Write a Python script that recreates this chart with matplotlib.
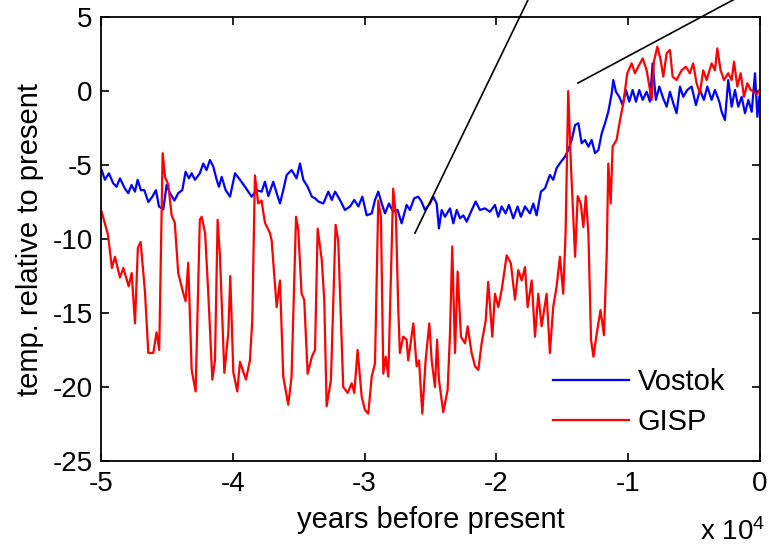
import numpy as np
import matplotlib.pyplot as plt
from matplotlib.ticker import FuncFormatter

plt.rcParams['font.family'] = ['Liberation Sans', 'DejaVu Sans']
plt.rcParams['mathtext.fontset'] = 'custom'
plt.rcParams['mathtext.rm'] = 'Liberation Sans'
plt.rcParams['mathtext.default'] = 'regular'
plt.rcParams['axes.unicode_minus'] = False

# Vostok ice core (thousand years, temp relative to present)
vostok_kyr = [-49.95, -49.7, -49.4, -49.07, -48.82, -48.56, -48.18, -47.93, -47.68, -47.42,
              -47.22, -46.97, -46.71, -46.41, -46.1, -45.83, -45.6, -45.27, -45.02, -44.76,
              -44.43, -44.14, -43.83, -43.58, -43.33, -43.12, -42.87, -42.5, -42.24, -41.99,
              -41.73, -41.48, -41.22, -41.05, -40.84, -40.54, -40.21, -39.83, -39.45, -39.07,
              -38.57, -38.19, -37.81, -37.56, -37.3, -36.93, -36.67, -36.42, -36.17, -35.91,
              -35.54, -35.16, -34.9, -34.65, -34.32, -34.0, -33.76, -33.5, -33.13, -32.75,
              -32.49, -32.24, -31.87, -31.49, -31.1, -30.78, -30.47, -30.17, -29.84, -29.46,
              -29.21, -28.96, -28.7, -28.45, -28.15, -27.83, -27.5, -27.19, -26.81, -26.56,
              -26.24, -25.93, -25.68, -25.42, -25.04, -24.79, -24.53, -24.36, -24.15, -23.9,
              -23.52, -23.27, -23.01, -22.76, -22.51, -22.25, -21.93, -21.57, -21.25, -20.87,
              -20.49, -20.11, -19.86, -19.6, -19.3, -19.05, -18.72, -18.39, -18.14, -17.83,
              -17.45, -17.2, -16.95, -16.62, -16.31, -15.94, -15.69, -15.43, -15.1, -14.8,
              -14.55, -14.29, -14.03, -13.78, -13.53, -13.28, -13.02, -12.77, -12.52, -12.26,
              -12.01, -11.76, -11.51, -11.25, -11.13, -10.93, -10.68, -10.42, -10.17, -9.92,
              -9.66, -9.41, -9.16, -8.9, -8.6, -8.35, -8.15, -7.9, -7.64, -7.34,
              -7.08, -6.83, -6.58, -6.33, -6.07, -5.82, -5.52, -5.19, -4.86, -4.56,
              -4.26, -4.0, -3.67, -3.42, -3.09, -2.91, -2.66, -2.41, -2.15, -1.9,
              -1.65, -1.39, -1.14, -0.88, -0.63, -0.38, -0.2, -0.05]
vostok_temp = [-5.34, -6.0, -5.56, -6.24, -6.47, -5.9, -6.6, -6.9, -6.35, -6.8,
               -6.0, -6.7, -6.7, -7.5, -7.14, -6.7, -7.8, -8.0, -6.35, -6.9,
               -7.4, -6.9, -6.7, -5.45, -5.9, -5.56, -6.0, -5.56, -4.9, -5.34,
               -4.66, -5.1, -6.0, -6.47, -5.8, -6.7, -7.14, -5.56, -6.0, -6.47,
               -7.14, -6.7, -6.8, -6.13, -7.1, -6.13, -6.9, -7.6, -6.7, -5.67,
               -5.34, -5.9, -4.9, -6.0, -6.47, -7.14, -7.25, -7.47, -7.6, -6.8,
               -7.36, -6.8, -7.36, -8.04, -7.8, -7.36, -7.8, -7.14, -8.4, -8.27,
               -7.36, -6.8, -7.6, -8.27, -7.6, -8.16, -8.04, -8.94, -7.7, -8.04,
               -7.25, -7.14, -7.47, -8.04, -7.6, -7.14, -7.6, -9.28, -8.04, -8.5,
               -7.93, -8.94, -8.04, -8.6, -8.4, -8.83, -8.16, -7.47, -8.04, -7.93,
               -8.16, -7.7, -8.5, -7.8, -8.27, -7.7, -8.6, -7.8, -8.5, -7.8,
               -8.27, -7.6, -8.4, -6.8, -6.57, -5.67, -6.0, -5.2, -4.78, -4.44,
               -3.99, -3.31, -2.3, -2.18, -3.53, -3.31, -3.76, -3.31, -4.2, -3.99,
               -2.86, -2.18, -1.4, -0.16, 0.74, -0.05, -0.39, -0.95, 0.07, -0.72,
               0.07, -0.72, 0.07, -0.6, -0.05, -0.72, 1.87, -0.6, 0.3, -0.5,
               -1.06, -0.05, -0.83, -1.5, 0.3, -0.39, 0.07, 0.3, -0.95, 0.07,
               -0.6, 0.3, -0.6, 0.07, -0.72, -1.4, -1.96, 0.74, -1.06, 0.07,
               -1.06, -0.39, -1.5, -0.6, -1.4, 1.2, -1.74, -0.39]

# GISP ice core
gisp_kyr = [-49.95, -49.47, -49.17, -48.94, -48.56, -48.3, -47.9, -47.67, -47.42, -47.2,
            -46.99, -46.66, -46.41, -46.03, -45.78, -45.58, -45.32, -45.14, -44.89, -44.64,
            -44.4, -44.14, -43.76, -43.58, -43.38, -43.12, -42.82, -42.5, -42.36, -42.1,
            -41.86, -41.55, -41.35, -41.15, -40.97, -40.64, -40.34, -40.19, -39.96, -39.66,
            -39.45, -39.0, -38.7, -38.52, -38.32, -38.07, -37.82, -37.56, -37.18, -37.05,
            -36.67, -36.42, -36.17, -35.79, -35.54, -35.2, -35.03, -34.78, -34.58, -34.32,
            -34.0, -33.76, -33.56, -33.25, -33.06, -32.88, -32.55, -32.2, -32.0, -31.62,
            -31.28, -30.98, -30.78, -30.53, -30.22, -29.97, -29.72, -29.46, -29.21, -28.96,
            -28.76, -28.58, -28.4, -28.2, -27.83, -27.62, -27.45, -27.32, -27.07, -26.81,
            -26.69, -26.3, -26.05, -25.87, -25.62, -25.37, -25.09, -24.91, -24.66, -24.5,
            -24.36, -24.03, -23.7, -23.52, -23.35, -23.14, -22.94, -22.69, -22.38, -22.18,
            -21.88, -21.62, -21.37, -21.12, -20.81, -20.62, -20.31, -20.11, -19.86, -19.6,
            -19.22, -18.9, -18.59, -18.34, -18.08, -17.83, -17.63, -17.32, -17.07, -16.82,
            -16.57, -16.19, -15.94, -15.69, -15.43, -15.18, -14.93, -14.75, -14.55, -14.34,
            -14.03, -13.83, -13.6, -13.4, -13.22, -13.02, -12.82, -12.64, -12.39, -12.1,
            -11.84, -11.63, -11.51, -11.33, -11.18, -10.88, -10.62, -10.37, -10.07, -9.74,
            -9.49, -9.24, -8.9, -8.6, -8.22, -8.05, -7.79, -7.54, -7.34, -7.08,
            -6.83, -6.63, -6.33, -5.95, -5.62, -5.32, -5.07, -4.81, -4.56, -4.31,
            -4.05, -3.67, -3.42, -3.24, -2.99, -2.73, -2.41, -2.15, -1.97, -1.72,
            -1.47, -1.21, -0.96, -0.71, -0.45, -0.25, -0.05]
gisp_temp = [-8.16, -9.7, -11.96, -11.2, -12.6, -11.96, -13.2, -12.3, -15.7, -10.6,
             -10.2, -13.6, -17.7, -17.7, -16.3, -17.5, -4.2, -5.8, -6.35, -8.4,
             -8.9, -12.3, -13.65, -14.2, -11.6, -18.85, -20.3, -8.7, -8.5, -9.6,
             -13.65, -19.5, -18.2, -8.7, -11.2, -19.05, -16.35, -12.5, -19.0, -20.3,
             -18.3, -19.5, -18.2, -15.5, -5.7, -7.6, -7.4, -8.9, -9.6, -10.1,
             -14.6, -12.8, -19.3, -21.2, -19.3, -8.5, -9.4, -13.7, -14.1, -19.1,
             -17.95, -17.5, -9.3, -11.4, -14.1, -21.3, -19.5, -9.05, -10.1, -20.0,
             -20.4, -19.75, -20.4, -17.5, -20.65, -21.55, -21.8, -19.3, -18.4, -7.4,
             -8.5, -19.1, -17.95, -19.3, -6.6, -8.5, -14.6, -17.7, -16.6, -16.8,
             -18.2, -15.7, -18.6, -18.2, -21.8, -18.2, -15.7, -18.2, -20.0, -16.8,
             -19.5, -21.7, -20.2, -16.4, -10.5, -17.7, -12.2, -16.6, -17.05, -15.9,
             -17.7, -18.6, -18.85, -17.05, -15.5, -12.9, -16.6, -13.7, -14.6, -13.45,
             -11.1, -11.65, -14.1, -12.1, -12.8, -11.9, -14.6, -12.8, -16.6, -13.7,
             -15.9, -13.7, -17.7, -14.6, -13.2, -11.2, -13.7, -9.6, 0.0, -5.1,
             -11.2, -7.1, -7.6, -9.2, -7.1, -9.6, -16.8, -17.95, -16.4, -14.8,
             -16.5, -11.0, -4.9, -7.6, -3.75, -3.3, -1.96, -0.83, 1.2, 1.87,
             1.2, 1.64, 2.2, 1.4, -0.6, 1.98, 3.0, 2.1, 0.97, 2.55,
             2.77, 0.97, 0.74, 1.4, 1.64, 1.2, 1.87, 0.52, -0.16, 1.4,
             0.74, 1.87, 1.4, 2.88, 1.4, 0.74, 1.2, 0.74, 1.98, 0.3,
             1.2, -0.39, 0.52, 0.07, -0.05, -0.27, 0.07]

# the two pointer lines running off the top of the figure
pointer1_x = [-26180, -17414]
pointer1_y = [-9.6, 6.5]
pointer2_x = [-13810, -1315]
pointer2_y = [0.54, 6.5]

fig = plt.figure(figsize=(7.69, 5.47), dpi=100)
ax = fig.add_axes([0.1313, 0.1572, 0.857, 0.8117])

ax.plot(np.array(vostok_kyr) * 1000, vostok_temp, color='#0000ff', lw=1.6, label='Vostok')
ax.plot(np.array(gisp_kyr) * 1000, gisp_temp, color='#ff0000', lw=1.6, label='GISP')
ax.plot(pointer1_x, pointer1_y, color='black', lw=1.2, clip_on=False)
ax.plot(pointer2_x, pointer2_y, color='black', lw=1.2, clip_on=False)

ax.set_xlim(-50000, 0)
ax.set_ylim(-25, 5)
ax.set_xticks([-50000, -40000, -30000, -20000, -10000, 0])
ax.set_yticks([-25, -20, -15, -10, -5, 0, 5])
ax.xaxis.set_major_formatter(FuncFormatter(lambda v, p: '%g' % (v / 10000)))
ax.tick_params(direction='in', length=6, width=1.2, labelsize=20,
               top=True, right=True)
ax.tick_params(axis='x', pad=7)
ax.tick_params(axis='y', pad=6)
for s in ax.spines.values():
    s.set_linewidth(1.3)

ax.set_xlabel('years before present', fontsize=21, labelpad=7)
ax.set_ylabel('temp. relative to present', fontsize=21, labelpad=6)
fig.text(0.995, 0.002, r'x $10^4$', fontsize=20, ha='right', va='bottom')

ax.legend(loc='center left', frameon=False, fontsize=21, handlelength=2.6,
          handletextpad=0.3, labelspacing=0.4, borderpad=0, borderaxespad=0,
          bbox_to_anchor=(0.686, 0.133))

fig.savefig('out.png', dpi=100)
